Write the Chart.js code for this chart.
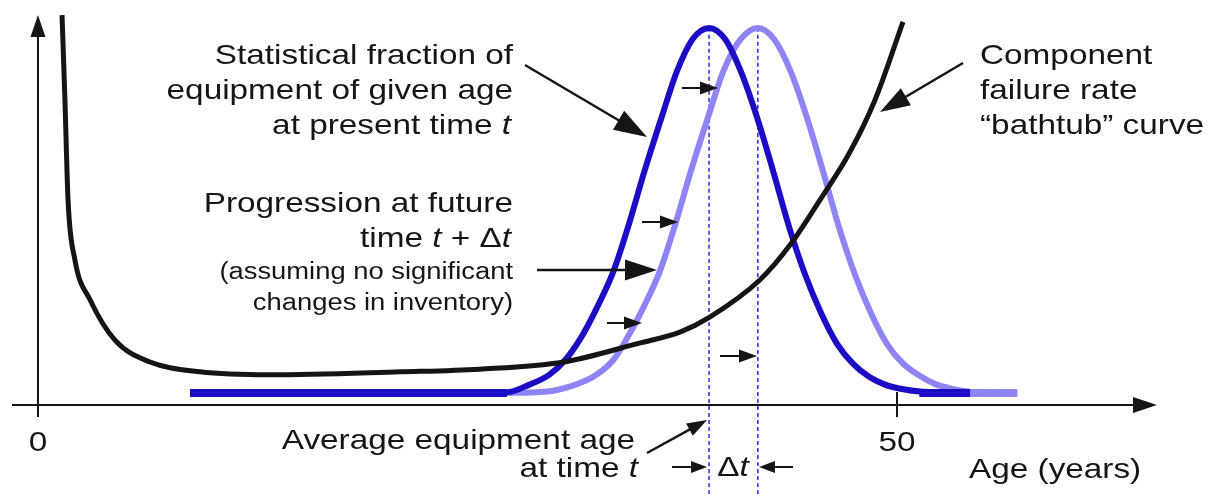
<!DOCTYPE html>
<html>
<head>
<meta charset="utf-8">
<script src="https://cdn.jsdelivr.net/npm/chart.js@4.4.1/dist/chart.umd.min.js"></script>
<style>
  html, body { margin: 0; padding: 0; background: #fff; }
  #wrap { width: 1220px; height: 497px; position: relative; }
</style>
</head>
<body>
<div id="wrap"><canvas id="ageChart"></canvas></div>
<script>
// Component failure rate ("bathtub" curve), age in years vs relative height
const bathAge  = [1.4, 1.57, 1.75, 2.15, 3.03, 4.48, 6.52, 9.43, 13.5, 21.1, 25.7, 30.6, 35.0, 37.4, 39.1, 42.03, 43.77, 45.52, 47.26, 48.72, 50.35];
const bathRate = [103.4, 80.9, 54.4, 38.5, 27.9, 17.2, 11.4, 8.8, 8.0, 8.8, 9.5, 11.4, 16.4, 19.4, 23.3, 33.2, 42.4, 54.4, 67.1, 80.9, 101.6];

// Age distribution of equipment at present time t
const darkAge   = [8.85, 27.3, 28.6, 29.75, 30.7, 31.6, 32.5, 33.5, 34.4, 35.3, 36.3, 37.2, 38.1, 39.06, 40.0, 40.9, 41.85, 42.8, 43.7, 44.65, 45.6, 46.5, 47.45, 48.4, 49.3, 50.2, 51.5, 54.25];
const darkShare = [3.2, 3.4, 5.4, 8.0, 12.0, 17.8, 25.5, 35.5, 48.0, 62.0, 76.3, 88.6, 97.0, 100, 97.0, 88.6, 76.3, 61.9, 47.5, 34.6, 24.2, 16.3, 10.9, 7.4, 5.4, 4.3, 3.5, 3.2];

// Age distribution at future time t + Δt
const lightAge   = [27.2, 29.5, 31.3, 32.5, 33.5, 34.3, 35.2, 36.2, 37.1, 38.0, 39.0, 39.9, 40.9, 41.9, 42.85, 43.8, 44.75, 45.7, 46.6, 47.55, 48.5, 49.4, 50.35, 51.3, 52.2, 53.1, 54.5, 57.0];
const lightShare = [3.2, 3.5, 5.4, 8.0, 12.0, 17.8, 25.5, 35.5, 48.0, 62.0, 76.3, 88.6, 97.0, 100, 97.0, 88.6, 76.3, 61.9, 47.5, 34.6, 24.2, 16.3, 11.0, 7.8, 5.6, 4.4, 3.4, 3.2];

// flat (thick) parts of the distributions
const darkFlatAge  = [8.85, 27.3];
const darkTailAge  = [51.3, 54.25];
const lightTailAge = [54.25, 57.0];
const flatShare    = [3.2, 3.2];

// average ages at t and t + Δt
const meanAge  = [39.06, 41.9];
const meanSpan = [100, -25];

const tickAges   = [0, 50];
const tickLabels = ['0', '50'];

const FONT = '"Liberation Sans", Arial, sans-serif';
const SX = 1.19;
const INK = '#151515';
const DARK = 'rgb(28, 12, 196)';
const LIGHT = 'rgb(142, 132, 246)';

const pts = (xs, ys) => xs.map((x, i) => ({ x: x, y: ys[i] }));

function textRuns(ctx, parts, x, y, align, size) {
    const fonts = parts.map(p => (p[1] ? 'italic ' : '') + size + 'px ' + FONT);
    const widths = parts.map((p, i) => { ctx.font = fonts[i]; return ctx.measureText(p[0]).width; });
    const total = widths.reduce((a, b) => a + b, 0) * SX;
    let start = x;
    if (align === 'right') start = x - total;
    if (align === 'center') start = x - total / 2;
    ctx.save();
    ctx.translate(start, y);
    ctx.scale(SX, 1);
    ctx.fillStyle = INK;
    ctx.textAlign = 'left';
    ctx.textBaseline = 'alphabetic';
    let cx = 0;
    parts.forEach((p, i) => {
        ctx.font = fonts[i];
        ctx.fillText(p[0], cx, 0);
        cx += widths[i];
    });
    ctx.restore();
}

function arrow(ctx, x1, y1, x2, y2, len, half, lw) {
    const a = Math.atan2(y2 - y1, x2 - x1);
    const bx = x2 - len * Math.cos(a), by = y2 - len * Math.sin(a);
    ctx.save();
    ctx.strokeStyle = INK;
    ctx.fillStyle = INK;
    ctx.lineWidth = lw;
    ctx.beginPath();
    ctx.moveTo(x1, y1);
    ctx.lineTo(bx + Math.cos(a), by + Math.sin(a));
    ctx.stroke();
    ctx.beginPath();
    ctx.moveTo(x2, y2);
    ctx.lineTo(bx + half * Math.sin(a), by - half * Math.cos(a));
    ctx.lineTo(bx - half * Math.sin(a), by + half * Math.cos(a));
    ctx.closePath();
    ctx.fill();
    ctx.restore();
}

const sketchPlugin = {
    id: 'sketch',
    beforeDraw(chart) {
        const ctx = chart.ctx;
        ctx.save();
        ctx.fillStyle = '#fff';
        ctx.fillRect(0, 0, chart.width, chart.height);
        ctx.restore();
    },
    beforeDatasetsDraw(chart) {
        const ctx = chart.ctx;
        const xs = chart.scales.x, ys = chart.scales.y;
        const x0 = xs.getPixelForValue(0), y0 = ys.getPixelForValue(0);
        // axes
        arrow(ctx, 12, y0, 1157, y0, 24, 8, 2);
        arrow(ctx, x0, y0 + 12, x0, 15, 22, 7.5, 2);
        ctx.save();
        ctx.strokeStyle = INK;
        ctx.lineWidth = 2;
        tickAges.forEach((a, i) => {
            const px = xs.getPixelForValue(a);
            if (a !== 0) {
                ctx.beginPath();
                ctx.moveTo(px, y0 - 13);
                ctx.lineTo(px, y0 + 12);
                ctx.stroke();
            }
            textRuns(ctx, [[tickLabels[i]]], px, y0 + 46, 'center', 28);
        });
        ctx.restore();
    },
    afterDraw(chart) {
        const ctx = chart.ctx;
        // left annotations
        textRuns(ctx, [['Statistical fraction of']], 513, 64, 'right', 28);
        textRuns(ctx, [['equipment of given age']], 513, 99, 'right', 28);
        textRuns(ctx, [['at present time '], ['t', 1]], 511, 134, 'right', 28);
        textRuns(ctx, [['Progression at future']], 513, 212, 'right', 28);
        textRuns(ctx, [['time '], ['t', 1], [' + \u0394'], ['t', 1]], 511, 247, 'right', 28);
        textRuns(ctx, [['(assuming no significant']], 513, 279, 'right', 23);
        textRuns(ctx, [['changes in inventory)']], 513, 310, 'right', 23);
        // right annotation
        textRuns(ctx, [['Component']], 980, 64, 'left', 28);
        textRuns(ctx, [['failure rate']], 980, 99, 'left', 28);
        textRuns(ctx, [['\u201Cbathtub\u201D curve']], 980, 134, 'left', 28);
        // bottom
        textRuns(ctx, [['Average equipment age']], 635, 449, 'right', 28);
        textRuns(ctx, [['at time '], ['t', 1]], 638, 477, 'right', 28);
        textRuns(ctx, [['\u0394'], ['t', 1]], 733, 476, 'center', 28);
        textRuns(ctx, [['Age (years)']], 969, 478, 'left', 28);

        // pointer arrows
        arrow(ctx, 525, 65, 647, 137, 33, 11, 2.5);
        arrow(ctx, 963, 63, 880, 112, 30, 10, 2.5);
        arrow(ctx, 537, 270, 657, 270, 32, 10.5, 2.5);
        arrow(ctx, 647, 453, 707, 420, 20, 7, 2.5);
        arrow(ctx, 672, 467, 707, 467, 16, 6, 2);
        arrow(ctx, 793, 467, 759, 467, 16, 6, 2);
        // shift arrows
        arrow(ctx, 682, 88, 718, 88, 18, 6.5, 2);
        arrow(ctx, 642, 222, 678, 222, 18, 6.5, 2);
        arrow(ctx, 607, 323, 642, 323, 18, 6.5, 2);
        arrow(ctx, 720, 356, 757, 356, 18, 6.5, 2);
    }
};

const lineDs = (data, color, width, order, extra) => Object.assign({
    data: data,
    borderColor: color,
    borderWidth: width,
    pointRadius: 0,
    fill: false,
    cubicInterpolationMode: 'monotone',
    borderCapStyle: 'butt',
    order: order
}, extra || {});

new Chart(document.getElementById('ageChart'), {
    type: 'line',
    data: {
        datasets: [
            lineDs(pts(bathAge, bathRate), INK, 5, 0),
            lineDs(pts(darkAge, darkShare), DARK, 6, 1),
            lineDs(pts(darkFlatAge, flatShare), DARK, 8, 2),
            lineDs(pts(darkTailAge, flatShare), DARK, 8, 2),
            lineDs(pts(lightAge, lightShare), LIGHT, 6, 3),
            lineDs(pts(lightTailAge, flatShare), LIGHT, 8, 4),
            lineDs(pts([meanAge[0], meanAge[0]], meanSpan), 'rgb(40, 40, 235)', 1.5, 5, { borderDash: [4, 3] }),
            lineDs(pts([meanAge[1], meanAge[1]], meanSpan), 'rgb(40, 40, 235)', 1.5, 5, { borderDash: [4, 3] })
        ]
    },
    options: {
        responsive: true,
        maintainAspectRatio: false,
        animation: false,
        layout: { padding: 0 },
        plugins: { legend: { display: false }, tooltip: { enabled: false } },
        scales: {
            x: { type: 'linear', min: -2.21, max: 68.8, display: false },
            y: { type: 'linear', min: -24.4, max: 107.4, display: false }
        }
    },
    plugins: [sketchPlugin]
});
</script>
</body>
</html>
